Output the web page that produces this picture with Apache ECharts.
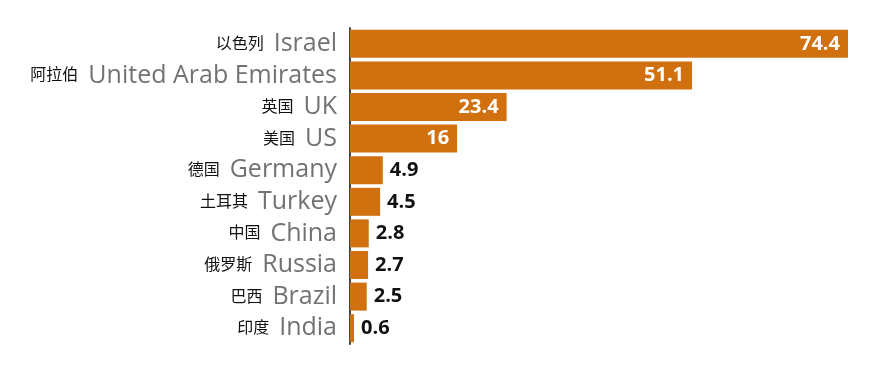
<!DOCTYPE html>
<html><head><meta charset="utf-8">
<script src="https://cdn.jsdelivr.net/npm/echarts@6/dist/echarts.min.js"></script>
<style>html,body{margin:0;padding:0;background:#fff}#c{width:892px;height:365px}</style>
</head><body><div id="c"></div>
<script>
const categoriesEn = ['Israel','United Arab Emirates','UK','US','Germany','Turkey','China','Russia','Brazil','India'];
const categoriesCn = ['以色列','阿拉伯','英国','美国','德国','土耳其','中国','俄罗斯','巴西','印度'];
const values = [74.4, 51.1, 23.4, 16, 4.9, 4.5, 2.8, 2.7, 2.5, 0.6];

const BAR = '#D1700E';
const chart = echarts.init(document.getElementById('c'));
const data = values.map(v => ({
  value: v,
  label: v > 10
    ? {show:true, position:'insideRight', distance:8, color:'#fff'}
    : {show:true, position:'right', distance:7, color:'#111'}
}));
chart.setOption({
  animation:false,
  grid:{left:350, top:28, width:498, height:316},
  xAxis:{type:'value', min:0, max:74.4, show:false},
  yAxis:{
    type:'category', inverse:true, data:categoriesEn.map((e,i)=>i),
    axisLine:{show:true, lineStyle:{color:'#444', width:2}},
    axisTick:{show:false},
    axisLabel:{
      margin:13,
      formatter:(v)=>'{cn|'+categoriesCn[v]+'}{en|'+categoriesEn[v]+'}',
      rich:{
        cn:{fontFamily:'Noto Sans CJK SC', fontSize:16, color:'#111', padding:[0,10,2,0]},
        en:{fontFamily:'Open Sans', fontSize:25, color:'#727272'}
      }
    }
  },
  series:[{
    type:'bar', data:data, barWidth:28,
    itemStyle:{color:BAR},
    label:{fontFamily:'Open Sans', fontSize:20, fontWeight:'bold', formatter:(p)=>String(p.value)}
  }]
});
</script></body></html>
